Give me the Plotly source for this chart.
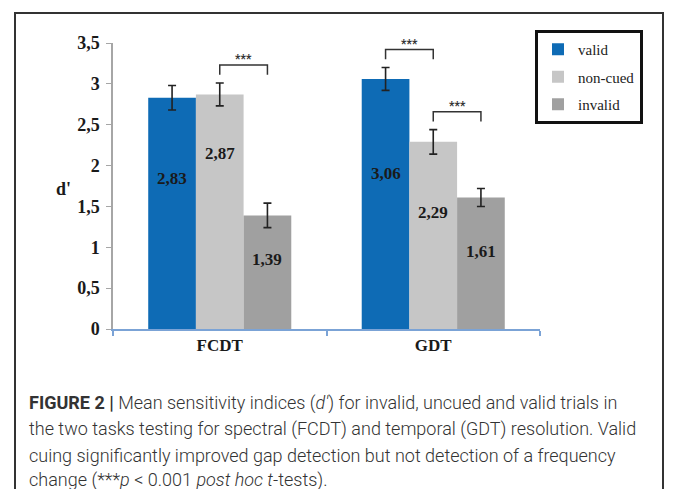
import plotly.graph_objects as go

# ---------------- data ----------------
categories = ["FCDT", "GDT"]
series_names = ["valid", "non-cued", "invalid"]
valid_vals = [2.83, 3.06]
noncued_vals = [2.87, 2.29]
invalid_vals = [1.39, 1.61]
valid_err = [0.15, 0.14]
noncued_err = [0.14, 0.15]
invalid_err = [0.15, 0.11]
value_text_valid = ["2,83", "3,06"]
value_text_noncued = ["2,87", "2,29"]
value_text_invalid = ["1,39", "1,61"]
y_tickvals = [0, 0.5, 1, 1.5, 2, 2.5, 3, 3.5]
y_ticktext = ["0", "0,5", "1", "1,5", "2", "2,5", "3", "3,5"]
# significance comparisons: (category index, left series, right series)
sig_pairs = [(0, 1, 2), (1, 0, 1), (1, 1, 2)]
sig_label = "***"

# ---------------- styling / layout helpers ----------------
OFF = 8  # page body margin of the browser
W, H = 673 - 2 * OFF, 497 - 2 * OFF
PL, PR, PT, PB = 113 - OFF, 540 - OFF, 43 - OFF, 329 - OFF  # plot area in px
colors = ["#0E6BB5", "#C6C6C6", "#A0A0A0"]
serif = "Liberation Serif, Times New Roman, serif"
sans = "Roboto, Liberation Sans, Arial, sans-serif"
bargap = 0.33
bar_w = (1 - bargap) / 3  # in category units
# label heights inside bars (positions, not data)
label_y = [[1.84, 1.90], [2.15, 1.43], [0.85, 0.95]]


def pxx(x):
    # x given in reference screen px
    return (x - OFF - PL) / (PR - PL)


def pyy(y):
    return (PB - (y - OFF)) / (PB - PT)


vals = [valid_vals, noncued_vals, invalid_vals]
errs = [valid_err, noncued_err, invalid_err]
texts = [value_text_valid, value_text_noncued, value_text_invalid]

fig = go.Figure()
for i, name in enumerate(series_names):
    fig.add_trace(go.Bar(
        x=categories, y=vals[i], name=name,
        marker=dict(color=colors[i], line=dict(width=0)),
        error_y=dict(type="data", array=errs[i], visible=True,
                     color="#222222", thickness=1.6, width=4),
        legendgroup=name,
    ))

annotations = []
# value labels
for i in range(3):
    for c in range(len(categories)):
        annotations.append(dict(
            x=c + (i - 1) * bar_w, y=label_y[i][c], xref="x", yref="y",
            text="<b>%s</b>" % texts[i][c], showarrow=False,
            font=dict(family=serif, size=17, color="#1a1a1a"),
        ))

# significance brackets
shapes = []
for (c, a, b) in sig_pairs:
    xa = c + (a - 1) * bar_w
    xb = c + (b - 1) * bar_w
    top_a = vals[a][c] + errs[a][c]
    leg = top_a + 0.10
    top = leg + 0.12
    shapes.append(dict(
        type="path", xref="x", yref="y",
        path="M %f,%f L %f,%f L %f,%f L %f,%f" % (xa, leg, xa, top, xb, top, xb, leg),
        line=dict(color="#333333", width=1.5),
    ))
    annotations.append(dict(
        x=(xa + xb) / 2, y=top, xref="x", yref="y", yanchor="bottom",
        text="<b>%s</b>" % sig_label, showarrow=False, yshift=-3,
        font=dict(family=sans, size=12, color="#333333"),
    ))

# y-axis title
annotations.append(dict(
    x=pxx(54), y=pyy(189), xref="paper", yref="paper",
    text="<b>d'</b>", showarrow=False,
    font=dict(family=serif, size=18, color="#1a1a1a"),
))

# caption
caption_lines = [
    "<b>FIGURE 2 |</b> Mean sensitivity indices (<i>d′</i>) for invalid, uncued and valid trials in",
    "the two tasks testing for spectral (FCDT) and temporal (GDT) resolution. Valid",
    "cuing significantly improved gap detection but not detection of a frequency",
    "change (***<i>p</i> &lt; 0.001 <i>post hoc t</i>-tests).",
]
caption_y = [403, 429, 455, 480]
for line, yy in zip(caption_lines, caption_y):
    annotations.append(dict(
        x=pxx(27), y=pyy(yy), xref="paper", yref="paper",
        xanchor="left", yanchor="middle", align="left",
        text=line, showarrow=False,
        font=dict(family=sans, size=18, color="#333333", weight=300),
    ))

# outer frame (bottom edge runs off the page)
frame_line = dict(color="#333333", width=2)
shapes.append(dict(
    type="rect", xref="paper", yref="paper", layer="above",
    x0=pxx(15), x1=pxx(663), y0=pyy(520), y1=pyy(13),
    line=frame_line, fillcolor="rgba(0,0,0,0)",
))
# explicit left edge of the frame, drawn in pixels from the left
shapes.append(dict(
    type="line", xref="paper", yref="paper", layer="above",
    x0=pxx(15), x1=pxx(15), y0=pyy(520), y1=pyy(13), line=frame_line,
))

fig.update_layout(
    width=W, height=H,
    margin=dict(l=PL, r=W - PR, t=PT, b=H - PB, autoexpand=False),
    paper_bgcolor="white", plot_bgcolor="white",
    barmode="group", bargap=bargap, bargroupgap=0,
    showlegend=True,
    legend=dict(
        x=pxx(535), y=pyy(30), xanchor="left", yanchor="top",
        bordercolor="#111111", borderwidth=3, bgcolor="white",
        font=dict(family=serif, size=15, color="#222222"),
        tracegroupgap=5, traceorder="grouped",
        itemwidth=30,
    ),
    xaxis=dict(
        showline=True, linecolor="#7BA3D6", linewidth=1.5,
        ticks="outside", tickson="boundaries", ticklen=5,
        tickcolor="#7BA3D6", tickwidth=1.5,
        tickfont=dict(family=serif, size=17, color="#1a1a1a", weight="bold"),
        showgrid=False, zeroline=False,
    ),
    yaxis=dict(
        range=[0, 3.5], tickvals=y_tickvals, ticktext=y_ticktext,
        showline=True, linecolor="#A6A6A6", linewidth=1.5,
        ticks="outside", ticklen=5, tickcolor="#A6A6A6", tickwidth=1.2,
        tickfont=dict(family=serif, size=18, color="#1a1a1a", weight="bold"),
        ticklabelstandoff=3,
        showgrid=False, zeroline=False,
    ),
    annotations=annotations,
    shapes=shapes,
)

fig.write_html("out.html")
